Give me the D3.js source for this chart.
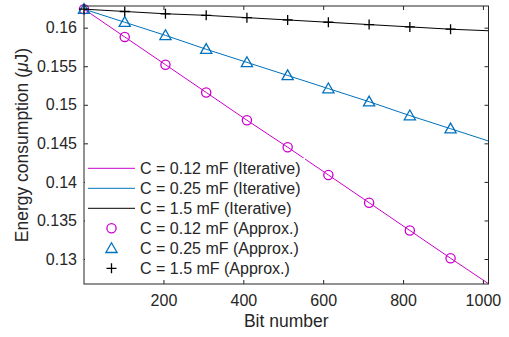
<!DOCTYPE html>
<html lang="en">
<head>
<meta charset="UTF-8"/>
<title>Energy consumption vs bit number</title>
<script src="https://d3js.org/d3.v7.min.js"></script>
<style>
	body { margin: 0; background: #fff; }
	text { font-family: "Liberation Sans", Arial, Helvetica, sans-serif; fill: #262626; }
</style>
</head>
<body>
<script>
	var w = 509;
	var h = 337;

	// bit positions (markers every ~102 bits, line runs to the last bit)
	var bits = [1, 103, 205, 307, 409, 511, 613, 715, 817, 919, 1014];
	var markerCount = 10;

	var c012 = [0.1624, 0.1588, 0.1552, 0.1516, 0.1480, 0.1445, 0.1409, 0.1373, 0.1337, 0.1301, 0.1268];
	var c025 = [0.1624, 0.1607, 0.1590, 0.1572, 0.1555, 0.1538, 0.1521, 0.1504, 0.1486, 0.1469, 0.1453];
	var c15  = [0.1624, 0.1621, 0.1618, 0.1616, 0.1613, 0.1610, 0.1607, 0.1604, 0.1601, 0.1598, 0.1596];

	var xTicks = [200, 400, 600, 800, 1000];
	var yTicks = [0.13, 0.135, 0.14, 0.145, 0.15, 0.155, 0.16];
	var yTickLabels = ["0.13", "0.135", "0.14", "0.145", "0.15", "0.155", "0.16"];

	var seriesNames = ["C = 0.12 mF", "C = 0.25 mF", "C = 1.5 mF"];
	var colors = ["#cc00cc", "#0072bd", "#000000"];
	var series = [c012, c025, c15];

	var plotL = 84, plotR = 488.5, plotT = 6, plotB = 284;
	var fontSize = 16;

	var xScale = d3.scaleLinear()
		.domain([1, 1014])
		.range([plotL, plotR]);

	var yScale = d3.scaleLinear()
		.domain([0.12676, 0.16281])
		.range([plotB, plotT]);

	var svg = d3.select("body")
		.append("svg")
		.attr("width", w)
		.attr("height", h);

	// lines
	var line = d3.line()
		.x(function(d, i){ return xScale(bits[i]); })
		.y(function(d){ return yScale(d); });

	series.forEach(function(s, k){
		svg.append("path")
			.attr("d", line(s))
			.attr("fill", "none")
			.attr("stroke", colors[k])
			.attr("stroke-width", 1);
	});

	// markers
	function drawMarker(g, k, x, y) {
		if (k === 0) {
			g.append("circle")
				.attr("cx", x).attr("cy", y).attr("r", 4.6)
				.attr("fill", "none").attr("stroke", colors[0]).attr("stroke-width", 1.3);
		} else if (k === 1) {
			var s = 5.6;
			g.append("path")
				.attr("d", "M" + x + "," + (y - s) + "L" + (x + s) + "," + (y + s * 0.75) + "L" + (x - s) + "," + (y + s * 0.75) + "Z")
				.attr("fill", "none").attr("stroke", colors[1]).attr("stroke-width", 1.3);
		} else {
			var p = 5;
			g.append("path")
				.attr("d", "M" + (x - p) + "," + y + "H" + (x + p) + "M" + x + "," + (y - p) + "V" + (y + p))
				.attr("fill", "none").attr("stroke", colors[2]).attr("stroke-width", 1.3);
		}
	}

	series.forEach(function(s, k){
		var g = svg.append("g");
		for (var i = 0; i < markerCount; i++) {
			drawMarker(g, k, xScale(bits[i]), yScale(s[i]));
		}
	});

	// axes (box with inward ticks)
	var xAxis = d3.axisBottom(xScale).tickValues(xTicks).tickSizeInner(-4).tickSizeOuter(0).tickPadding(11)
		.tickFormat(d3.format("d"));
	var yAxis = d3.axisLeft(yScale).tickValues(yTicks).tickSizeInner(-4).tickSizeOuter(0).tickPadding(7)
		.tickFormat(function(d, i){ return yTickLabels[i]; });
	var xAxisTop = d3.axisTop(xScale).tickValues(xTicks).tickSizeInner(-4).tickSizeOuter(0).tickFormat("");
	var yAxisRight = d3.axisRight(yScale).tickValues(yTicks).tickSizeInner(-4).tickSizeOuter(0).tickFormat("");

	function styleAxis(g) {
		g.select(".domain").remove();
		g.selectAll("line").attr("stroke", "#262626");
		g.selectAll("text").attr("font-size", fontSize + "px").attr("fill", "#262626")
			.style("font-family", "'Liberation Sans', Arial, sans-serif");
	}

	svg.append("g").attr("transform", "translate(0," + plotB + ")").call(xAxis).call(styleAxis);
	svg.append("g").attr("transform", "translate(" + plotL + ",0)").call(yAxis).call(styleAxis);
	svg.append("g").attr("transform", "translate(0," + plotT + ")").call(xAxisTop).call(styleAxis);
	svg.append("g").attr("transform", "translate(" + plotR + ",0)").call(yAxisRight).call(styleAxis);

	svg.append("rect")
		.attr("x", plotL).attr("y", plotT)
		.attr("width", plotR - plotL).attr("height", plotB - plotT)
		.attr("fill", "none").attr("stroke", "#262626").attr("stroke-width", 1);

	// legend
	var legend = svg.append("g");
	legend.append("rect")
		.attr("x", plotL + 1).attr("y", 158)
		.attr("width", 220).attr("height", 122)
		.attr("fill", "#fff");

	for (var k = 0; k < 6; k++) {
		var ly = 168.3 + k * 20;
		var si = k % 3;
		if (k < 3) {
			legend.append("line")
				.attr("x1", 88).attr("x2", 135).attr("y1", ly).attr("y2", ly)
				.attr("stroke", colors[si]).attr("stroke-width", 1);
		} else {
			drawMarker(legend, si, 111.5, ly);
		}
		legend.append("text")
			.attr("x", 140).attr("y", ly + 5.7)
			.attr("font-size", fontSize + "px")
			.text(seriesNames[si] + (k < 3 ? " (Iterative)" : " (Approx.)"));
	}

	// axis labels
	svg.append("text")
		.attr("text-anchor", "middle")
		.attr("x", (plotL + plotR) / 2)
		.attr("y", 327)
		.attr("font-size", "17.5px")
		.text("Bit number");

	var yl = svg.append("text")
		.attr("text-anchor", "middle")
		.attr("transform", "translate(28," + ((plotT + plotB) / 2) + ") rotate(-90)")
		.attr("font-size", "17.5px");
	yl.append("tspan").text("Energy consumption (");
	yl.append("tspan").attr("font-style", "italic").text("\u03bc");
	yl.append("tspan").text("J)");
</script>
</body>
</html>
